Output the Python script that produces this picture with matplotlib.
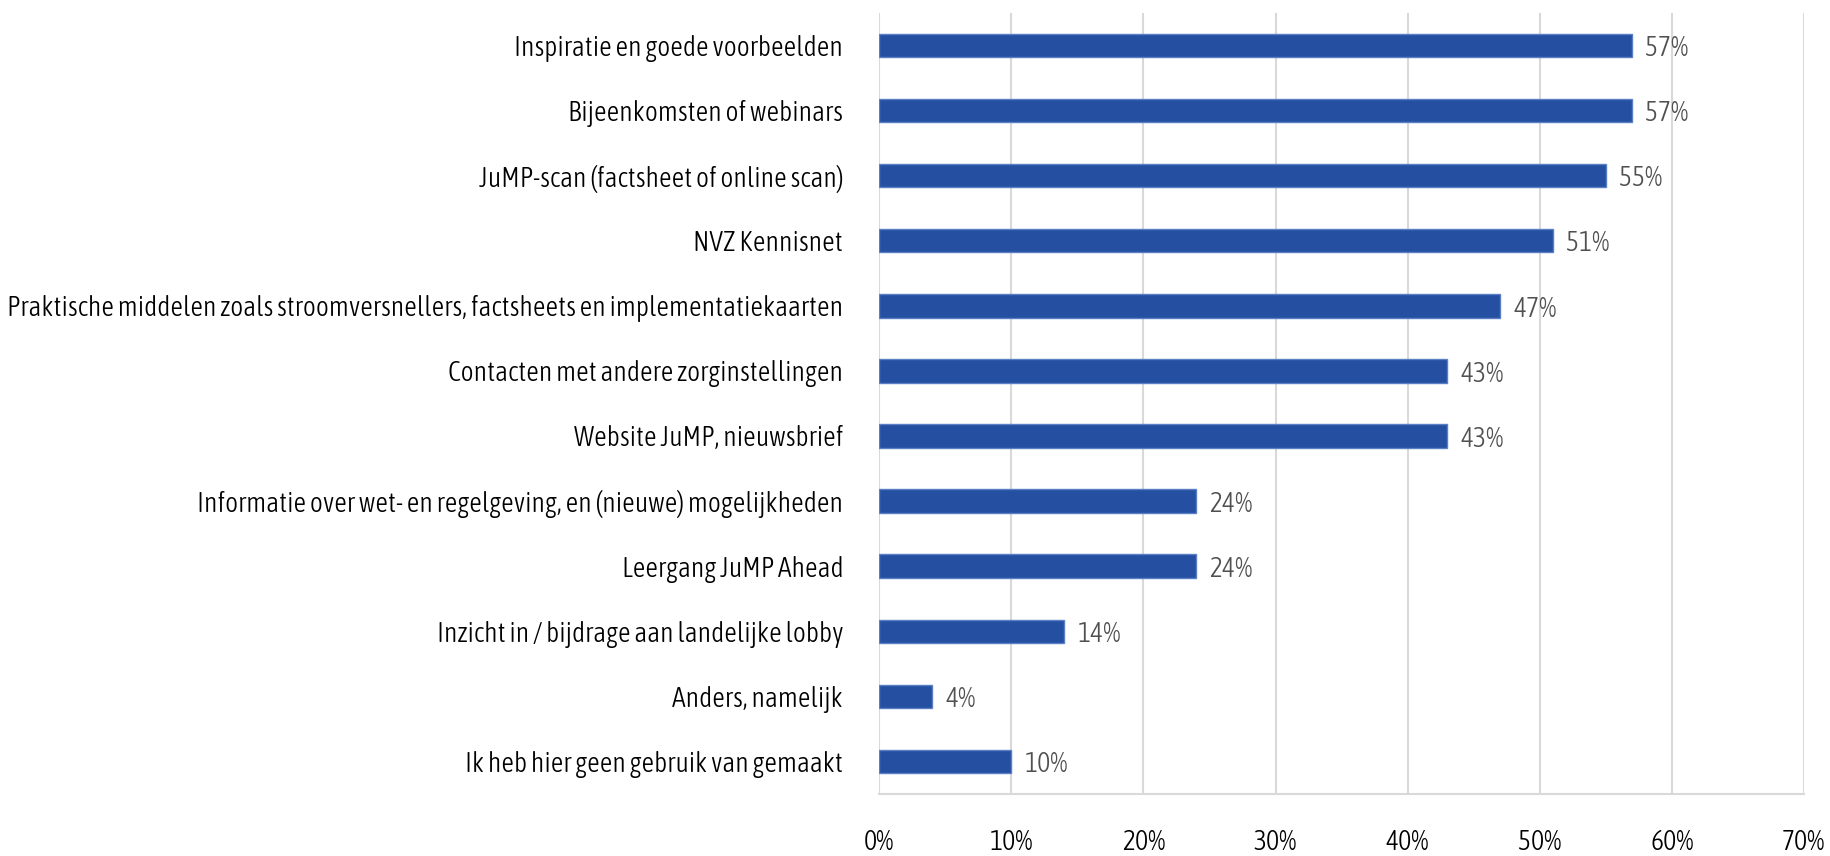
import matplotlib
matplotlib.use("Agg")
import matplotlib.pyplot as plt
from matplotlib import font_manager
from matplotlib.font_manager import FontProperties
from matplotlib.ticker import FuncFormatter

categories = [
    "Inspiratie en goede voorbeelden",
    "Bijeenkomsten of webinars",
    "JuMP-scan (factsheet of online scan)",
    "NVZ Kennisnet",
    "Praktische middelen zoals stroomversnellers, factsheets en implementatiekaarten",
    "Contacten met andere zorginstellingen",
    "Website JuMP, nieuwsbrief",
    "Informatie over wet- en regelgeving, en (nieuwe) mogelijkheden",
    "Leergang JuMP Ahead",
    "Inzicht in / bijdrage aan landelijke lobby",
    "Anders, namelijk",
    "Ik heb hier geen gebruik van gemaakt",
]
values = [57, 57, 55, 51, 47, 43, 43, 24, 24, 14, 4, 10]
x_ticks = [0, 10, 20, 30, 40, 50, 60, 70]

BAR_COLOR = "#2550a2"
EDGE_COLOR = "#5b7fc4"
LABEL_GRAY = "#505050"
GRID_GRAY = "#d9d9d9"


def _weight(f):
    w = f.weight
    if isinstance(w, str):
        return {"light": 300, "normal": 400, "regular": 400, "bold": 700}.get(w, 400)
    return int(w)


def find_condensed_light():
    # a light condensed face; the original is Open Sans Condensed Light
    fonts = [f for f in font_manager.fontManager.ttflist if f.style == "normal"]
    for key in ["Open Sans Condensed", "Asap Condensed", "Encode Sans Condensed", "Barlow Semi Condensed"]:
        light = [f for f in fonts if f.name.startswith(key) and 280 <= _weight(f) <= 320]
        if light:
            return FontProperties(fname=light[0].fname)
    return FontProperties(family="Open Sans", weight="light")


fp = find_condensed_light()
FS = 20

fig = plt.figure(figsize=(18.31, 8.56), dpi=100)
ax = fig.add_axes([0.4802, 0.0724, 0.5050, 0.9126])

y = list(range(len(categories)))
ax.barh(y, values, height=0.36, color=BAR_COLOR, edgecolor=EDGE_COLOR, linewidth=1.0, zorder=3)
for yi, v in zip(y, values):
    ax.text(v + 1.0, yi + 0.05, f"{v}%", va="center", ha="left",
            fontproperties=fp, fontsize=FS, color=LABEL_GRAY)

ax.set_ylim(len(categories) - 0.5, -0.5)
ax.set_xlim(0, 70)
ax.set_yticks(y)
ax.set_yticklabels(categories)
ax.set_xticks(x_ticks)
ax.xaxis.set_major_formatter(FuncFormatter(lambda v, _: f"{v:.0f}%"))
ax.tick_params(axis="x", length=0, pad=25, labelcolor="#000000")
ax.tick_params(axis="y", length=0, pad=26, labelcolor="#000000")
for lab in ax.get_xticklabels() + ax.get_yticklabels():
    lab.set_fontproperties(fp)
    lab.set_fontsize(FS)

ax.grid(axis="x", color=GRID_GRAY, linewidth=1.5, zorder=0)
for side in ["top", "right", "left"]:
    ax.spines[side].set_visible(False)
ax.spines["bottom"].set_color(GRID_GRAY)
ax.spines["bottom"].set_linewidth(1.5)

fig.savefig("out.png", dpi=100)
